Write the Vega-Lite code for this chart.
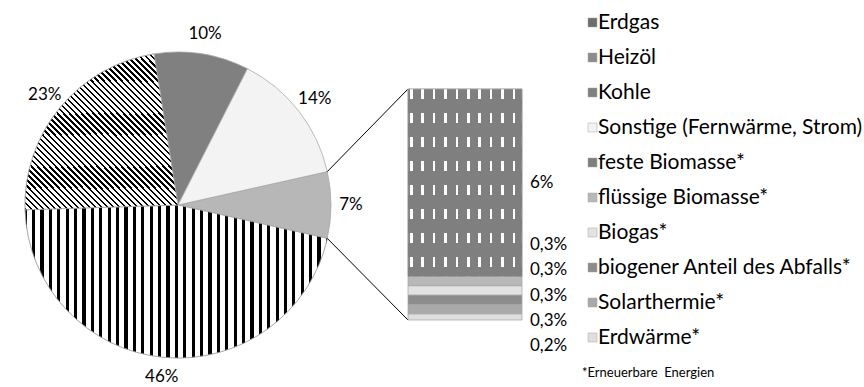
{
  "$schema": "https://vega.github.io/schema/vega-lite/v6.json",
  "width": 864,
  "height": 387,
  "padding": 0,
  "autosize": {"type": "none"},
  "background": "white",
  "config": {
    "view": {"stroke": null},
    "font": "Lato",
    "locale": {"number": {"decimal": ",", "thousands": ".", "grouping": [3], "currency": ["", " €"]}}
  },
  "datasets": {
    "kuchen": [
      {"traeger": "Erneuerbare Energien", "anteil": 0.07, "folge": 1},
      {"traeger": "Erdgas", "anteil": 0.46, "folge": 2},
      {"traeger": "Heizöl", "anteil": 0.23, "folge": 3},
      {"traeger": "Kohle", "anteil": 0.10, "folge": 4},
      {"traeger": "Sonstige (Fernwärme, Strom)", "anteil": 0.14, "folge": 5}
    ],
    "saeule": [
      {"gruppe": "Erneuerbare Energien", "traeger": "Erdwärme*", "anteil": 0.002, "folge": 1},
      {"gruppe": "Erneuerbare Energien", "traeger": "Solarthermie*", "anteil": 0.003, "folge": 2},
      {"gruppe": "Erneuerbare Energien", "traeger": "biogener Anteil des Abfalls*", "anteil": 0.003, "folge": 3},
      {"gruppe": "Erneuerbare Energien", "traeger": "Biogas*", "anteil": 0.003, "folge": 4},
      {"gruppe": "Erneuerbare Energien", "traeger": "flüssige Biomasse*", "anteil": 0.003, "folge": 5},
      {"gruppe": "Erneuerbare Energien", "traeger": "feste Biomasse*", "anteil": 0.06, "folge": 6}
    ]
  },
  "resolve": {"scale": {"y": "independent"}},
  "layer": [
    {
      "data": {"name": "kuchen"},
      "transform": [{"stack": "anteil", "groupby": [], "sort": [{"field": "folge", "order": "ascending"}], "as": ["t0", "t1"]}],
      "mark": {"type": "arc", "radius": 153, "stroke": "#a6a6a6", "strokeWidth": 0.75},
      "encoding": {
        "theta": {"field": "t0", "type": "quantitative", "scale": {"domain": [0, 1], "range": [1.35088, 7.63407], "zero": false, "nice": false}},
        "theta2": {"field": "t1"},
        "color": {
          "field": "traeger",
          "type": "nominal",
          "scale": {
            "domain": ["Erdgas", "Heizöl", "Kohle", "Sonstige (Fernwärme, Strom)", "feste Biomasse*", "flüssige Biomasse*", "Biogas*", "biogener Anteil des Abfalls*", "Solarthermie*", "Erdwärme*", "Erneuerbare Energien"],
            "range": ["#6e6e6e", "#8c8c8c", "#808080", "#f3f3f3", "#7f7f7f", "#b8b8b8", "#e2e2e2", "#8c8c8c", "#a9a9a9", "#dedede", "#b7b7b7"]
          },
          "legend": {
            "values": ["Erdgas", "Heizöl", "Kohle", "Sonstige (Fernwärme, Strom)", "feste Biomasse*", "flüssige Biomasse*", "Biogas*", "biogener Anteil des Abfalls*", "Solarthermie*", "Erdwärme*"],
            "orient": "none",
            "legendX": 582,
            "legendY": 12,
            "direction": "vertical",
            "padding": 0,
            "symbolType": "square",
            "symbolSize": 81,
            "symbolStrokeColor": "#7f7f7f",
            "symbolStrokeWidth": 0.5,
            "labelFont": "Lato",
            "labelFontSize": 21,
            "labelColor": "#000",
            "labelOffset": -5,
            "labelLimit": 400,
            "rowPadding": 13,
            "title": "\u00a0\u00a0\u00a0\u00a0*Erneuerbare\u00a0 Energien",
            "titleOrient": "bottom",
            "titleAnchor": "start",
            "titleFont": "Lato",
            "titleFontSize": 13,
            "titleFontWeight": "normal",
            "titleColor": "#000",
            "titlePadding": 19
          }
        },
        "x": {"value": 178},
        "y": {"value": 205}
      }
    },
    {
      "data": {"name": "kuchen"},
      "transform": [
        {"stack": "anteil", "groupby": [], "sort": [{"field": "folge", "order": "ascending"}], "as": ["t0", "t1"]},
        {"filter": "datum.traeger === 'Erdgas'"}
      ],
      "mark": {
        "type": "arc", "radius": 153, "stroke": "#a6a6a6", "strokeWidth": 0.75,
        "fill": {"gradient": "linear", "x1": 0, "y1": 0, "x2": 1, "y2": 0, "stops": [
          {"offset": 0, "color": "#000"},
          {"offset": 0.0058, "color": "#000"}, {"offset": 0.0058, "color": "#fff"}, {"offset": 0.0231, "color": "#fff"}, {"offset": 0.0231, "color": "#000"},
          {"offset": 0.0336, "color": "#000"}, {"offset": 0.0336, "color": "#fff"}, {"offset": 0.0508, "color": "#fff"}, {"offset": 0.0508, "color": "#000"},
          {"offset": 0.0614, "color": "#000"}, {"offset": 0.0614, "color": "#fff"}, {"offset": 0.0786, "color": "#fff"}, {"offset": 0.0786, "color": "#000"},
          {"offset": 0.0892, "color": "#000"}, {"offset": 0.0892, "color": "#fff"}, {"offset": 0.1064, "color": "#fff"}, {"offset": 0.1064, "color": "#000"},
          {"offset": 0.1169, "color": "#000"}, {"offset": 0.1169, "color": "#fff"}, {"offset": 0.1342, "color": "#fff"}, {"offset": 0.1342, "color": "#000"},
          {"offset": 0.1447, "color": "#000"}, {"offset": 0.1447, "color": "#fff"}, {"offset": 0.1619, "color": "#fff"}, {"offset": 0.1619, "color": "#000"},
          {"offset": 0.1725, "color": "#000"}, {"offset": 0.1725, "color": "#fff"}, {"offset": 0.1897, "color": "#fff"}, {"offset": 0.1897, "color": "#000"},
          {"offset": 0.2003, "color": "#000"}, {"offset": 0.2003, "color": "#fff"}, {"offset": 0.2175, "color": "#fff"}, {"offset": 0.2175, "color": "#000"},
          {"offset": 0.2281, "color": "#000"}, {"offset": 0.2281, "color": "#fff"}, {"offset": 0.2453, "color": "#fff"}, {"offset": 0.2453, "color": "#000"},
          {"offset": 0.2558, "color": "#000"}, {"offset": 0.2558, "color": "#fff"}, {"offset": 0.2731, "color": "#fff"}, {"offset": 0.2731, "color": "#000"},
          {"offset": 0.2836, "color": "#000"}, {"offset": 0.2836, "color": "#fff"}, {"offset": 0.3008, "color": "#fff"}, {"offset": 0.3008, "color": "#000"},
          {"offset": 0.3114, "color": "#000"}, {"offset": 0.3114, "color": "#fff"}, {"offset": 0.3286, "color": "#fff"}, {"offset": 0.3286, "color": "#000"},
          {"offset": 0.3392, "color": "#000"}, {"offset": 0.3392, "color": "#fff"}, {"offset": 0.3564, "color": "#fff"}, {"offset": 0.3564, "color": "#000"},
          {"offset": 0.3669, "color": "#000"}, {"offset": 0.3669, "color": "#fff"}, {"offset": 0.3842, "color": "#fff"}, {"offset": 0.3842, "color": "#000"},
          {"offset": 0.3947, "color": "#000"}, {"offset": 0.3947, "color": "#fff"}, {"offset": 0.4119, "color": "#fff"}, {"offset": 0.4119, "color": "#000"},
          {"offset": 0.4225, "color": "#000"}, {"offset": 0.4225, "color": "#fff"}, {"offset": 0.4397, "color": "#fff"}, {"offset": 0.4397, "color": "#000"},
          {"offset": 0.4503, "color": "#000"}, {"offset": 0.4503, "color": "#fff"}, {"offset": 0.4675, "color": "#fff"}, {"offset": 0.4675, "color": "#000"},
          {"offset": 0.4781, "color": "#000"}, {"offset": 0.4781, "color": "#fff"}, {"offset": 0.4953, "color": "#fff"}, {"offset": 0.4953, "color": "#000"},
          {"offset": 0.5058, "color": "#000"}, {"offset": 0.5058, "color": "#fff"}, {"offset": 0.5231, "color": "#fff"}, {"offset": 0.5231, "color": "#000"},
          {"offset": 0.5336, "color": "#000"}, {"offset": 0.5336, "color": "#fff"}, {"offset": 0.5508, "color": "#fff"}, {"offset": 0.5508, "color": "#000"},
          {"offset": 0.5614, "color": "#000"}, {"offset": 0.5614, "color": "#fff"}, {"offset": 0.5786, "color": "#fff"}, {"offset": 0.5786, "color": "#000"},
          {"offset": 0.5892, "color": "#000"}, {"offset": 0.5892, "color": "#fff"}, {"offset": 0.6064, "color": "#fff"}, {"offset": 0.6064, "color": "#000"},
          {"offset": 0.6169, "color": "#000"}, {"offset": 0.6169, "color": "#fff"}, {"offset": 0.6342, "color": "#fff"}, {"offset": 0.6342, "color": "#000"},
          {"offset": 0.6447, "color": "#000"}, {"offset": 0.6447, "color": "#fff"}, {"offset": 0.6619, "color": "#fff"}, {"offset": 0.6619, "color": "#000"},
          {"offset": 0.6725, "color": "#000"}, {"offset": 0.6725, "color": "#fff"}, {"offset": 0.6897, "color": "#fff"}, {"offset": 0.6897, "color": "#000"},
          {"offset": 0.7003, "color": "#000"}, {"offset": 0.7003, "color": "#fff"}, {"offset": 0.7175, "color": "#fff"}, {"offset": 0.7175, "color": "#000"},
          {"offset": 0.7281, "color": "#000"}, {"offset": 0.7281, "color": "#fff"}, {"offset": 0.7453, "color": "#fff"}, {"offset": 0.7453, "color": "#000"},
          {"offset": 0.7558, "color": "#000"}, {"offset": 0.7558, "color": "#fff"}, {"offset": 0.7731, "color": "#fff"}, {"offset": 0.7731, "color": "#000"},
          {"offset": 0.7836, "color": "#000"}, {"offset": 0.7836, "color": "#fff"}, {"offset": 0.8008, "color": "#fff"}, {"offset": 0.8008, "color": "#000"},
          {"offset": 0.8114, "color": "#000"}, {"offset": 0.8114, "color": "#fff"}, {"offset": 0.8286, "color": "#fff"}, {"offset": 0.8286, "color": "#000"},
          {"offset": 0.8392, "color": "#000"}, {"offset": 0.8392, "color": "#fff"}, {"offset": 0.8564, "color": "#fff"}, {"offset": 0.8564, "color": "#000"},
          {"offset": 0.8669, "color": "#000"}, {"offset": 0.8669, "color": "#fff"}, {"offset": 0.8842, "color": "#fff"}, {"offset": 0.8842, "color": "#000"},
          {"offset": 0.8947, "color": "#000"}, {"offset": 0.8947, "color": "#fff"}, {"offset": 0.9119, "color": "#fff"}, {"offset": 0.9119, "color": "#000"},
          {"offset": 0.9225, "color": "#000"}, {"offset": 0.9225, "color": "#fff"}, {"offset": 0.9397, "color": "#fff"}, {"offset": 0.9397, "color": "#000"},
          {"offset": 0.9503, "color": "#000"}, {"offset": 0.9503, "color": "#fff"}, {"offset": 0.9675, "color": "#fff"}, {"offset": 0.9675, "color": "#000"},
          {"offset": 0.9781, "color": "#000"}, {"offset": 0.9781, "color": "#fff"}, {"offset": 0.9953, "color": "#fff"}, {"offset": 0.9953, "color": "#000"},
          {"offset": 1, "color": "#000"}
        ]}
      },
      "encoding": {
        "theta": {"field": "t0", "type": "quantitative"},
        "theta2": {"field": "t1"},
        "x": {"value": 178},
        "y": {"value": 205}
      }
    },
    {
      "data": {"name": "kuchen"},
      "transform": [
        {"stack": "anteil", "groupby": [], "sort": [{"field": "folge", "order": "ascending"}], "as": ["t0", "t1"]},
        {"filter": "datum.traeger === 'Heizöl'"}
      ],
      "mark": {
        "type": "arc", "radius": 153, "stroke": "#a6a6a6", "strokeWidth": 0.75,
        "fill": {"gradient": "linear", "x1": 0, "y1": 1, "x2": 1, "y2": 0, "stops": [
          {"offset": 0.0000, "color": "#000"}, {"offset": 0.0078, "color": "#000"}, {"offset": 0.0078, "color": "#fff"}, {"offset": 0.0196, "color": "#fff"},
          {"offset": 0.0196, "color": "#000"}, {"offset": 0.0275, "color": "#000"}, {"offset": 0.0275, "color": "#fff"}, {"offset": 0.0392, "color": "#fff"},
          {"offset": 0.0392, "color": "#000"}, {"offset": 0.0471, "color": "#000"}, {"offset": 0.0471, "color": "#fff"}, {"offset": 0.0588, "color": "#fff"},
          {"offset": 0.0588, "color": "#000"}, {"offset": 0.0667, "color": "#000"}, {"offset": 0.0667, "color": "#fff"}, {"offset": 0.0784, "color": "#fff"},
          {"offset": 0.0784, "color": "#000"}, {"offset": 0.0863, "color": "#000"}, {"offset": 0.0863, "color": "#fff"}, {"offset": 0.0980, "color": "#fff"},
          {"offset": 0.0980, "color": "#000"}, {"offset": 0.1059, "color": "#000"}, {"offset": 0.1059, "color": "#fff"}, {"offset": 0.1176, "color": "#fff"},
          {"offset": 0.1176, "color": "#000"}, {"offset": 0.1255, "color": "#000"}, {"offset": 0.1255, "color": "#fff"}, {"offset": 0.1373, "color": "#fff"},
          {"offset": 0.1373, "color": "#000"}, {"offset": 0.1451, "color": "#000"}, {"offset": 0.1451, "color": "#fff"}, {"offset": 0.1569, "color": "#fff"},
          {"offset": 0.1569, "color": "#000"}, {"offset": 0.1647, "color": "#000"}, {"offset": 0.1647, "color": "#fff"}, {"offset": 0.1765, "color": "#fff"},
          {"offset": 0.1765, "color": "#000"}, {"offset": 0.1843, "color": "#000"}, {"offset": 0.1843, "color": "#fff"}, {"offset": 0.1961, "color": "#fff"},
          {"offset": 0.1961, "color": "#000"}, {"offset": 0.2039, "color": "#000"}, {"offset": 0.2039, "color": "#fff"}, {"offset": 0.2157, "color": "#fff"},
          {"offset": 0.2157, "color": "#000"}, {"offset": 0.2235, "color": "#000"}, {"offset": 0.2235, "color": "#fff"}, {"offset": 0.2353, "color": "#fff"},
          {"offset": 0.2353, "color": "#000"}, {"offset": 0.2431, "color": "#000"}, {"offset": 0.2431, "color": "#fff"}, {"offset": 0.2549, "color": "#fff"},
          {"offset": 0.2549, "color": "#000"}, {"offset": 0.2627, "color": "#000"}, {"offset": 0.2627, "color": "#fff"}, {"offset": 0.2745, "color": "#fff"},
          {"offset": 0.2745, "color": "#000"}, {"offset": 0.2824, "color": "#000"}, {"offset": 0.2824, "color": "#fff"}, {"offset": 0.2941, "color": "#fff"},
          {"offset": 0.2941, "color": "#000"}, {"offset": 0.3020, "color": "#000"}, {"offset": 0.3020, "color": "#fff"}, {"offset": 0.3137, "color": "#fff"},
          {"offset": 0.3137, "color": "#000"}, {"offset": 0.3216, "color": "#000"}, {"offset": 0.3216, "color": "#fff"}, {"offset": 0.3333, "color": "#fff"},
          {"offset": 0.3333, "color": "#000"}, {"offset": 0.3412, "color": "#000"}, {"offset": 0.3412, "color": "#fff"}, {"offset": 0.3529, "color": "#fff"},
          {"offset": 0.3529, "color": "#000"}, {"offset": 0.3608, "color": "#000"}, {"offset": 0.3608, "color": "#fff"}, {"offset": 0.3725, "color": "#fff"},
          {"offset": 0.3725, "color": "#000"}, {"offset": 0.3804, "color": "#000"}, {"offset": 0.3804, "color": "#fff"}, {"offset": 0.3922, "color": "#fff"},
          {"offset": 0.3922, "color": "#000"}, {"offset": 0.4000, "color": "#000"}, {"offset": 0.4000, "color": "#fff"}, {"offset": 0.4118, "color": "#fff"},
          {"offset": 0.4118, "color": "#000"}, {"offset": 0.4196, "color": "#000"}, {"offset": 0.4196, "color": "#fff"}, {"offset": 0.4314, "color": "#fff"},
          {"offset": 0.4314, "color": "#000"}, {"offset": 0.4392, "color": "#000"}, {"offset": 0.4392, "color": "#fff"}, {"offset": 0.4510, "color": "#fff"},
          {"offset": 0.4510, "color": "#000"}, {"offset": 0.4588, "color": "#000"}, {"offset": 0.4588, "color": "#fff"}, {"offset": 0.4706, "color": "#fff"},
          {"offset": 0.4706, "color": "#000"}, {"offset": 0.4784, "color": "#000"}, {"offset": 0.4784, "color": "#fff"}, {"offset": 0.4902, "color": "#fff"},
          {"offset": 0.4902, "color": "#000"}, {"offset": 0.4980, "color": "#000"}, {"offset": 0.4980, "color": "#fff"}, {"offset": 0.5098, "color": "#fff"},
          {"offset": 0.5098, "color": "#000"}, {"offset": 0.5176, "color": "#000"}, {"offset": 0.5176, "color": "#fff"}, {"offset": 0.5294, "color": "#fff"},
          {"offset": 0.5294, "color": "#000"}, {"offset": 0.5373, "color": "#000"}, {"offset": 0.5373, "color": "#fff"}, {"offset": 0.5490, "color": "#fff"},
          {"offset": 0.5490, "color": "#000"}, {"offset": 0.5569, "color": "#000"}, {"offset": 0.5569, "color": "#fff"}, {"offset": 0.5686, "color": "#fff"},
          {"offset": 0.5686, "color": "#000"}, {"offset": 0.5765, "color": "#000"}, {"offset": 0.5765, "color": "#fff"}, {"offset": 0.5882, "color": "#fff"},
          {"offset": 0.5882, "color": "#000"}, {"offset": 0.5961, "color": "#000"}, {"offset": 0.5961, "color": "#fff"}, {"offset": 0.6078, "color": "#fff"},
          {"offset": 0.6078, "color": "#000"}, {"offset": 0.6157, "color": "#000"}, {"offset": 0.6157, "color": "#fff"}, {"offset": 0.6275, "color": "#fff"},
          {"offset": 0.6275, "color": "#000"}, {"offset": 0.6353, "color": "#000"}, {"offset": 0.6353, "color": "#fff"}, {"offset": 0.6471, "color": "#fff"},
          {"offset": 0.6471, "color": "#000"}, {"offset": 0.6549, "color": "#000"}, {"offset": 0.6549, "color": "#fff"}, {"offset": 0.6667, "color": "#fff"},
          {"offset": 0.6667, "color": "#000"}, {"offset": 0.6745, "color": "#000"}, {"offset": 0.6745, "color": "#fff"}, {"offset": 0.6863, "color": "#fff"},
          {"offset": 0.6863, "color": "#000"}, {"offset": 0.6941, "color": "#000"}, {"offset": 0.6941, "color": "#fff"}, {"offset": 0.7059, "color": "#fff"},
          {"offset": 0.7059, "color": "#000"}, {"offset": 0.7137, "color": "#000"}, {"offset": 0.7137, "color": "#fff"}, {"offset": 0.7255, "color": "#fff"},
          {"offset": 0.7255, "color": "#000"}, {"offset": 0.7333, "color": "#000"}, {"offset": 0.7333, "color": "#fff"}, {"offset": 0.7451, "color": "#fff"},
          {"offset": 0.7451, "color": "#000"}, {"offset": 0.7529, "color": "#000"}, {"offset": 0.7529, "color": "#fff"}, {"offset": 0.7647, "color": "#fff"},
          {"offset": 0.7647, "color": "#000"}, {"offset": 0.7725, "color": "#000"}, {"offset": 0.7725, "color": "#fff"}, {"offset": 0.7843, "color": "#fff"},
          {"offset": 0.7843, "color": "#000"}, {"offset": 0.7922, "color": "#000"}, {"offset": 0.7922, "color": "#fff"}, {"offset": 0.8039, "color": "#fff"},
          {"offset": 0.8039, "color": "#000"}, {"offset": 0.8118, "color": "#000"}, {"offset": 0.8118, "color": "#fff"}, {"offset": 0.8235, "color": "#fff"},
          {"offset": 0.8235, "color": "#000"}, {"offset": 0.8314, "color": "#000"}, {"offset": 0.8314, "color": "#fff"}, {"offset": 0.8431, "color": "#fff"},
          {"offset": 0.8431, "color": "#000"}, {"offset": 0.8510, "color": "#000"}, {"offset": 0.8510, "color": "#fff"}, {"offset": 0.8627, "color": "#fff"},
          {"offset": 0.8627, "color": "#000"}, {"offset": 0.8706, "color": "#000"}, {"offset": 0.8706, "color": "#fff"}, {"offset": 0.8824, "color": "#fff"},
          {"offset": 0.8824, "color": "#000"}, {"offset": 0.8902, "color": "#000"}, {"offset": 0.8902, "color": "#fff"}, {"offset": 0.9020, "color": "#fff"},
          {"offset": 0.9020, "color": "#000"}, {"offset": 0.9098, "color": "#000"}, {"offset": 0.9098, "color": "#fff"}, {"offset": 0.9216, "color": "#fff"},
          {"offset": 0.9216, "color": "#000"}, {"offset": 0.9294, "color": "#000"}, {"offset": 0.9294, "color": "#fff"}, {"offset": 0.9412, "color": "#fff"},
          {"offset": 0.9412, "color": "#000"}, {"offset": 0.9490, "color": "#000"}, {"offset": 0.9490, "color": "#fff"}, {"offset": 0.9608, "color": "#fff"},
          {"offset": 0.9608, "color": "#000"}, {"offset": 0.9686, "color": "#000"}, {"offset": 0.9686, "color": "#fff"}, {"offset": 0.9804, "color": "#fff"},
          {"offset": 0.9804, "color": "#000"}, {"offset": 0.9882, "color": "#000"}, {"offset": 0.9882, "color": "#fff"}, {"offset": 1, "color": "#fff"}
        ]}
      },
      "encoding": {
        "theta": {"field": "t0", "type": "quantitative"},
        "theta2": {"field": "t1"},
        "x": {"value": 178},
        "y": {"value": 205}
      }
    },
    {
      "data": {"name": "kuchen"},
      "mark": {"type": "text", "radius": 173, "font": "Lato", "fontSize": 17, "fill": "#000", "align": "center", "baseline": "middle"},
      "encoding": {
        "theta": {"field": "anteil", "type": "quantitative", "stack": true},
        "order": {"field": "folge", "type": "quantitative"},
        "text": {"field": "anteil", "type": "quantitative", "format": ".0%"},
        "x": {"value": 178},
        "y": {"value": 205}
      }
    },
    {
      "data": {"values": [{}]},
      "mark": {"type": "rule", "stroke": "#000", "strokeWidth": 1},
      "encoding": {
        "x": {"datum": "Erneuerbare Energien", "type": "nominal", "bandPosition": 0, "axis": null, "scale": {"range": [408, 522], "paddingInner": 0, "paddingOuter": 0}},
        "y": {"datum": 0.074, "type": "quantitative", "axis": null, "scale": {"domain": [0, 0.074], "range": [320, 89], "nice": false}},
        "x2": {"value": 327.3},
        "y2": {"value": 171.6}
      }
    },
    {
      "data": {"values": [{}]},
      "mark": {"type": "rule", "stroke": "#000", "strokeWidth": 1},
      "encoding": {
        "x": {"datum": "Erneuerbare Energien", "type": "nominal", "bandPosition": 0, "axis": null},
        "y": {"datum": 0, "type": "quantitative", "axis": null, "scale": {"domain": [0, 0.074], "range": [320, 89], "nice": false}},
        "x2": {"value": 327.3},
        "y2": {"value": 238.4}
      }
    },
    {
      "data": {"name": "saeule"},
      "transform": [{"stack": "anteil", "groupby": ["gruppe"], "sort": [{"field": "folge", "order": "ascending"}], "as": ["s0", "s1"]}],
      "mark": {"type": "bar", "stroke": "#a6a6a6", "strokeWidth": 0.75},
      "encoding": {
        "x": {"field": "gruppe", "type": "nominal", "axis": null, "scale": {"range": [408, 522], "paddingInner": 0, "paddingOuter": 0}},
        "y": {"field": "s0", "type": "quantitative", "axis": null, "scale": {"domain": [0, 0.074], "range": [320, 89], "nice": false}},
        "y2": {"field": "s1"},
        "color": {"field": "traeger", "type": "nominal"}
      }
    },
    {
      "data": {"name": "saeule"},
      "transform": [
        {"stack": "anteil", "groupby": ["gruppe"], "sort": [{"field": "folge", "order": "ascending"}], "as": ["s0", "s1"]},
        {"filter": "datum.traeger === 'feste Biomasse*'"}
      ],
      "mark": {
        "type": "bar", "stroke": "#a6a6a6", "strokeWidth": 0.75,
        "fill": {"gradient": "linear", "x1": 0, "y1": 0, "x2": 1, "y2": 0, "stops": [
          {"offset": 0, "color": "#7f7f7f"},
          {"offset": 0.0175, "color": "#7f7f7f"}, {"offset": 0.0175, "color": "#fff"}, {"offset": 0.0395, "color": "#fff"}, {"offset": 0.0395, "color": "#7f7f7f"},
          {"offset": 0.1175, "color": "#7f7f7f"}, {"offset": 0.1175, "color": "#fff"}, {"offset": 0.1395, "color": "#fff"}, {"offset": 0.1395, "color": "#7f7f7f"},
          {"offset": 0.2175, "color": "#7f7f7f"}, {"offset": 0.2175, "color": "#fff"}, {"offset": 0.2395, "color": "#fff"}, {"offset": 0.2395, "color": "#7f7f7f"},
          {"offset": 0.3175, "color": "#7f7f7f"}, {"offset": 0.3175, "color": "#fff"}, {"offset": 0.3395, "color": "#fff"}, {"offset": 0.3395, "color": "#7f7f7f"},
          {"offset": 0.4175, "color": "#7f7f7f"}, {"offset": 0.4175, "color": "#fff"}, {"offset": 0.4395, "color": "#fff"}, {"offset": 0.4395, "color": "#7f7f7f"},
          {"offset": 0.5175, "color": "#7f7f7f"}, {"offset": 0.5175, "color": "#fff"}, {"offset": 0.5395, "color": "#fff"}, {"offset": 0.5395, "color": "#7f7f7f"},
          {"offset": 0.6175, "color": "#7f7f7f"}, {"offset": 0.6175, "color": "#fff"}, {"offset": 0.6395, "color": "#fff"}, {"offset": 0.6395, "color": "#7f7f7f"},
          {"offset": 0.7175, "color": "#7f7f7f"}, {"offset": 0.7175, "color": "#fff"}, {"offset": 0.7395, "color": "#fff"}, {"offset": 0.7395, "color": "#7f7f7f"},
          {"offset": 0.8175, "color": "#7f7f7f"}, {"offset": 0.8175, "color": "#fff"}, {"offset": 0.8395, "color": "#fff"}, {"offset": 0.8395, "color": "#7f7f7f"},
          {"offset": 0.9175, "color": "#7f7f7f"}, {"offset": 0.9175, "color": "#fff"}, {"offset": 0.9395, "color": "#fff"}, {"offset": 0.9395, "color": "#7f7f7f"},
          {"offset": 1, "color": "#7f7f7f"}
        ]}
      },
      "encoding": {
        "x": {"field": "gruppe", "type": "nominal", "axis": null},
        "y": {"field": "s0", "type": "quantitative", "axis": null, "scale": {"domain": [0, 0.074], "range": [320, 89], "nice": false}},
        "y2": {"field": "s1"}
      }
    },
    {
      "data": {"name": "saeule"},
      "transform": [
        {"stack": "anteil", "groupby": ["gruppe"], "sort": [{"field": "folge", "order": "ascending"}], "as": ["s0", "s1"]},
        {"filter": "datum.traeger === 'feste Biomasse*'"}
      ],
      "mark": {
        "type": "bar", "strokeWidth": 0,
        "fill": {"gradient": "linear", "x1": 0, "y1": 0, "x2": 0, "y2": 1, "stops": [
          {"offset": 0, "color": "rgba(127,127,127,0)"}, {"offset": 0.0538, "color": "rgba(127,127,127,0)"}, {"offset": 0.0538, "color": "#7f7f7f"}, {"offset": 0.1282, "color": "#7f7f7f"},
          {"offset": 0.1282, "color": "rgba(127,127,127,0)"}, {"offset": 0.1821, "color": "rgba(127,127,127,0)"}, {"offset": 0.1821, "color": "#7f7f7f"}, {"offset": 0.2564, "color": "#7f7f7f"},
          {"offset": 0.2564, "color": "rgba(127,127,127,0)"}, {"offset": 0.3103, "color": "rgba(127,127,127,0)"}, {"offset": 0.3103, "color": "#7f7f7f"}, {"offset": 0.3846, "color": "#7f7f7f"},
          {"offset": 0.3846, "color": "rgba(127,127,127,0)"}, {"offset": 0.4385, "color": "rgba(127,127,127,0)"}, {"offset": 0.4385, "color": "#7f7f7f"}, {"offset": 0.5128, "color": "#7f7f7f"},
          {"offset": 0.5128, "color": "rgba(127,127,127,0)"}, {"offset": 0.5667, "color": "rgba(127,127,127,0)"}, {"offset": 0.5667, "color": "#7f7f7f"}, {"offset": 0.6410, "color": "#7f7f7f"},
          {"offset": 0.6410, "color": "rgba(127,127,127,0)"}, {"offset": 0.6949, "color": "rgba(127,127,127,0)"}, {"offset": 0.6949, "color": "#7f7f7f"}, {"offset": 0.7692, "color": "#7f7f7f"},
          {"offset": 0.7692, "color": "rgba(127,127,127,0)"}, {"offset": 0.8231, "color": "rgba(127,127,127,0)"}, {"offset": 0.8231, "color": "#7f7f7f"}, {"offset": 0.8974, "color": "#7f7f7f"},
          {"offset": 0.8974, "color": "rgba(127,127,127,0)"}, {"offset": 0.9513, "color": "rgba(127,127,127,0)"}, {"offset": 0.9513, "color": "#7f7f7f"}, {"offset": 1, "color": "#7f7f7f"}
        ]}
      },
      "encoding": {
        "x": {"field": "gruppe", "type": "nominal", "axis": null},
        "y": {"field": "s0", "type": "quantitative", "axis": null, "scale": {"domain": [0, 0.074], "range": [320, 89], "nice": false}},
        "y2": {"field": "s1"}
      }
    },
    {
      "data": {"name": "saeule"},
      "mark": {"type": "text", "font": "Lato", "fontSize": 17, "fill": "#000", "align": "left", "baseline": "middle", "dx": 8},
      "encoding": {
        "x": {"field": "gruppe", "type": "nominal", "bandPosition": 1, "axis": null},
        "y": {"field": "anteil", "type": "quantitative", "stack": "zero", "bandPosition": 0.5, "axis": null, "scale": {"domain": [0, 0.074], "range": [320, 89], "nice": false}},
        "order": {"field": "folge", "type": "quantitative"},
        "detail": {"field": "traeger", "type": "nominal"},
        "text": {
          "condition": {"test": "datum.traeger === 'feste Biomasse*'", "field": "anteil", "type": "quantitative", "format": ".1~%"},
          "value": ""
        }
      }
    },
    {
      "data": {"name": "saeule"},
      "transform": [{"filter": "datum.traeger !== 'feste Biomasse*'"}],
      "mark": {"type": "text", "font": "Lato", "fontSize": 17, "fill": "#000", "align": "left", "baseline": "middle", "dx": 8},
      "encoding": {
        "x": {"field": "gruppe", "type": "nominal", "bandPosition": 1, "axis": null},
        "y": {
          "field": "traeger",
          "type": "nominal",
          "axis": null,
          "scale": {"type": "point", "domain": ["flüssige Biomasse*", "Biogas*", "biogener Anteil des Abfalls*", "Solarthermie*", "Erdwärme*"], "range": [245, 346], "padding": 0}
        },
        "text": {"field": "anteil", "type": "quantitative", "format": ".1~%"}
      }
    }
  ]
}
